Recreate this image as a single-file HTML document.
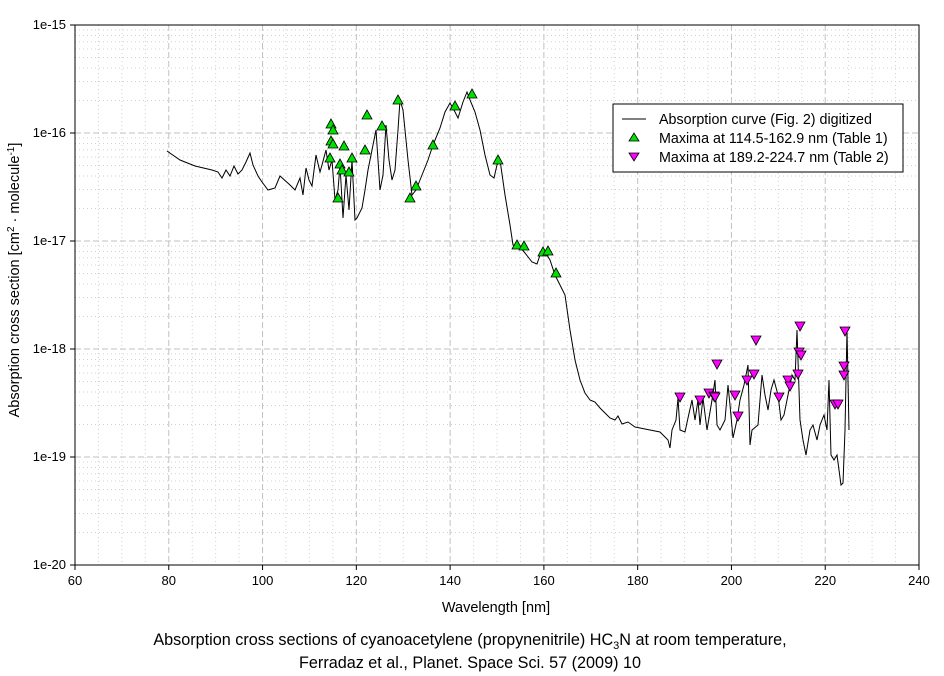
<!DOCTYPE html><html><head><style>body{margin:0;background:#fff}svg{display:block;font-family:"Liberation Sans",Arial,sans-serif}</style></head><body>
<svg width="944" height="676" viewBox="0 0 944 676">
<rect width="944" height="676" fill="#fff"/>
<g id="grid"></g>
<rect x="75" y="25" width="844" height="540" fill="none" stroke="#000"/>
<g id="ticks" font-size="13" fill="#000"></g>
<polyline fill="none" stroke="#000" stroke-width="1" points="167,151 180,160 195,166 212,170 218,172 222,178 226,170 230,176 234,166 238,174 242,170 246,162 250,153 253,165 258,176 262,182 268,190 275,188 280,176 290,185 295,190 300,178 303,195 306,168 309,180 312,186 316,155 320,172 322,165 326,150 329,170 332,160 335,200 338,190 340,165 343,218 346,175 349,210 352,160 355,220 357,218 362,208 365,190 368,170 371,155 374,140 376,130 378,160 380,190 383,175 386,125 389,160 392,180 395,170 398,130 400,100 403,110 408,160 412,195 416,190 420,180 428,160 433,145 440,128 445,112 450,103 455,112 458,118 463,102 467,92 470,100 475,112 480,130 485,155 490,175 494,178 497,165 500,160 505,195 510,225 513,245 520,247 525,253 532,262 537,264 540,255 545,252 550,260 555,275 560,285 565,295 570,330 575,360 580,380 585,393 590,400 595,402 600,408 605,413 610,418 615,420 618,416 622,424 628,422 635,427 640,428 650,430 660,432 668,440 670,448 672,430 676,420 678,398 680,430 685,432 688,418 692,400 695,420 698,400 700,425 703,398 707,430 712,400 715,380 717,425 720,430 725,420 728,385 730,405 733,438 737,420 740,400 744,385 748,365 750,445 752,430 758,425 762,375 765,395 768,410 771,390 774,380 778,395 781,420 784,415 788,395 792,375 795,380 797,330 800,420 803,440 806,455 810,430 813,425 817,440 820,425 824,415 827,430 829,380 831,455 834,460 837,455 839,470 841,485 843,483 845,430 847,330 849,430"/>
<g id="up" fill="#00e000" stroke="#000" stroke-width="0.8"></g>
<g id="dn" fill="#ff00ff" stroke="#000" stroke-width="0.8"></g>
<rect x="613" y="104" width="290" height="68" fill="#fff" stroke="#000"/>
<line x1="622" y1="119" x2="646" y2="119" stroke="#000"/>
<polygon points="634,133 629,141 639,141" fill="#00e000" stroke="#000" stroke-width="0.8"/>
<polygon points="629,153 639,153 634,161" fill="#ff00ff" stroke="#000" stroke-width="0.8"/>
<g font-size="14.3"><text x="659" y="124">Absorption curve (Fig. 2) digitized</text>
<text x="659" y="143">Maxima at 114.5-162.9 nm (Table 1)</text>
<text x="659" y="162">Maxima at 189.2-224.7 nm (Table 2)</text></g>
<text x="496" y="612" font-size="14.5" text-anchor="middle">Wavelength [nm]</text>
<text transform="translate(19,280) rotate(-90)" font-size="14.5" text-anchor="middle">Absorption cross section [cm<tspan font-size="10" dy="-5">2</tspan><tspan dy="5"> · molecule</tspan><tspan font-size="10" dy="-5">-1</tspan><tspan dy="5">]</tspan></text>
<text x="470" y="645" font-size="16.2" text-anchor="middle">Absorption cross sections of cyanoacetylene (propynenitrile) HC<tspan font-size="11" dy="4">3</tspan><tspan dy="-4">N at room temperature,</tspan></text>
<text x="470" y="668" font-size="16.2" text-anchor="middle">Ferradaz et al., Planet. Space Sci. 57 (2009) 10</text>
</svg>
<script>
var NS="http://www.w3.org/2000/svg";function el(p,t,a){var e=document.createElementNS(NS,t);for(var k in a)e.setAttribute(k,a[k]);document.getElementById(p).appendChild(e);return e;}
var X0=75,X1=919,Y0=25,D=108;
for(var w=60;w<=240;w+=5){var x=X0+(w-60)*(X1-X0)/180;var maj=w%20==0;
if(w>60&&w<240)el("grid","line",{x1:x,x2:x,y1:Y0,y2:565,stroke:maj?"#c0c0c0":"#d0d0d0","stroke-dasharray":maj?"6,3":"1,3"});
if(maj){el("ticks","line",{x1:x,x2:x,y1:565,y2:570,stroke:"#000"});var t=el("ticks","text",{x:x,y:585,"text-anchor":"middle"});t.textContent=w;}}
for(var d=0;d<5;d++){var yb=Y0+d*D;for(var m=2;m<=9;m++){var y=yb+D-Math.log10(m)*D;el("grid","line",{x1:X0,x2:X1,y1:y,y2:y,stroke:"#d0d0d0","stroke-dasharray":"1,3"});}}
for(var d=0;d<=5;d++){var y=Y0+d*D;if(d>0&&d<5)el("grid","line",{x1:X0,x2:X1,y1:y,y2:y,stroke:"#c0c0c0","stroke-dasharray":"6,3"});el("ticks","line",{x1:70,x2:75,y1:y,y2:y,stroke:"#000"});var t=el("ticks","text",{x:66,y:y+4,"text-anchor":"end"});t.textContent="1e-"+(15+d);}
var up=[[331,124],[333,130],[331,141],[333,144],[330,158],[340,164],[342,170],[349,172],[344,146],[352,158],[338,198],[365,150],[367,115],[382,126],[398,100],[410,198],[416,186],[433,145],[455,106],[472,94],[498,160],[517,245],[524,246],[543,252],[548,251],[556,273]];
up.forEach(function(p){el("up","polygon",{points:p[0]+","+(p[1]-5)+" "+(p[0]-5)+","+(p[1]+4)+" "+(p[0]+5)+","+(p[1]+4)});});
var dn=[[680,397],[700,400],[709,393],[714,396],[715,397],[717,364],[735,395],[738,416],[747,380],[754,374],[756,340],[779,397],[788,380],[790,386],[798,374],[799,352],[801,355],[800,326],[835,404],[838,404],[845,331],[844,366],[844,375]];
dn.forEach(function(p){el("dn","polygon",{points:(p[0]-5)+","+(p[1]-4)+" "+(p[0]+5)+","+(p[1]-4)+" "+p[0]+","+(p[1]+5)});});
</script>
</body></html>
